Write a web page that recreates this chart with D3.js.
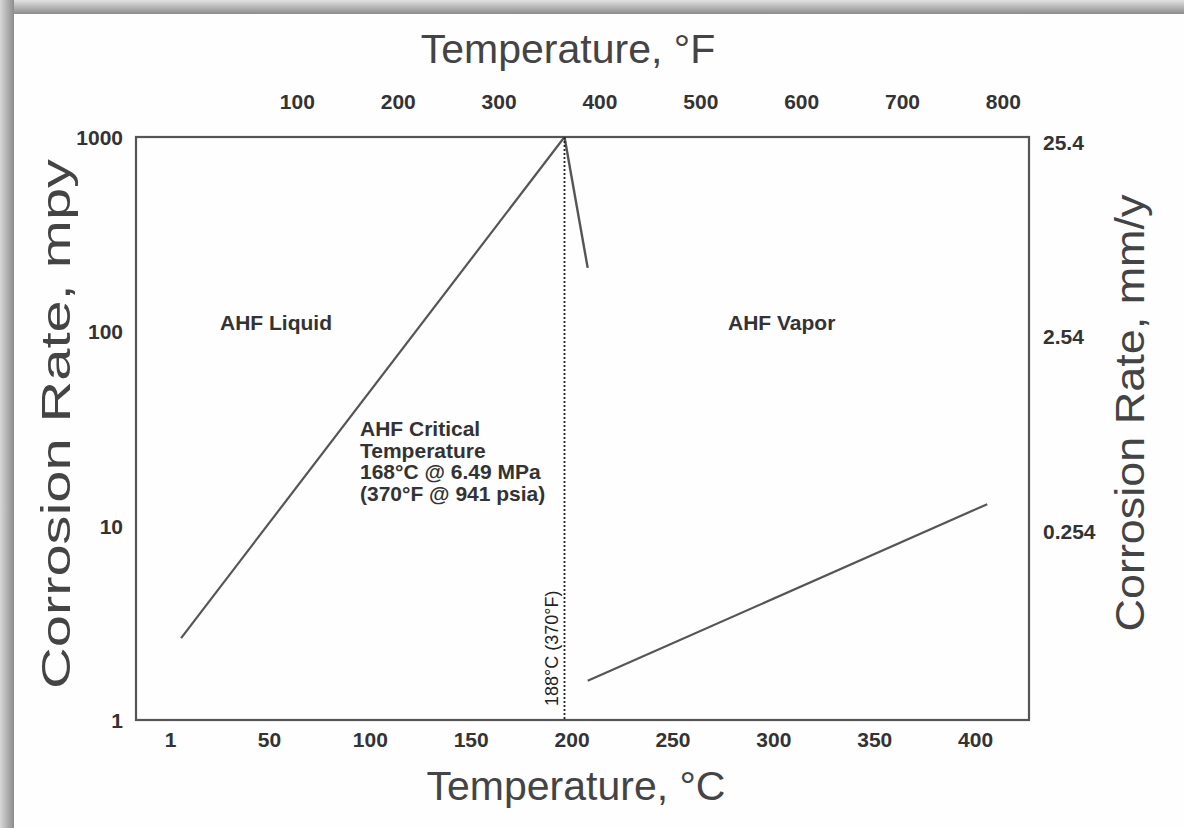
<!DOCTYPE html>
<html lang="en">
<head>
    <meta charset="UTF-8">
    <title>AHF Corrosion Rate vs Temperature</title>
    <script src="https://d3js.org/d3.v7.min.js"></script>
    <style>
        body {
            margin: 0;
            padding: 0;
            background-color: #fefefe;
            font-family: "Liberation Sans", Arial, sans-serif;
        }
        svg {
            display: block;
        }
        .tick-label {
            font-size: 21px;
            font-weight: bold;
            fill: #333;
        }
        .title {
            font-size: 41px;
            fill: #444;
        }
        .note {
            font-size: 21px;
            font-weight: bold;
            fill: #333;
        }
    </style>
</head>
<body>
    <svg id="chart" width="1184" height="828"></svg>

    <script>
        // tick values
        const bottomTicksC = [1, 50, 100, 150, 200, 250, 300, 350, 400];
        const topTicksF = [100, 200, 300, 400, 500, 600, 700, 800];
        const leftTicksMpy = [1, 10, 100, 1000];
        const rightTicksMmy = [0.254, 2.54, 25.4];

        // curves (temperature in °C, corrosion rate in mpy)
        const liquidC = [6.5, 196.5];
        const liquidMpy = [2.64, 1000];
        const dropC = [196.5, 208];
        const dropMpy = [1000, 212];
        const vaporC = [208, 406];
        const vaporMpy = [1.59, 12.9];
        const criticalC = 196.5;

        const svg = d3.select("#chart");

        // gray border strips on the top and left edges
        const defs = svg.append("defs");
        const gTop = defs.append("linearGradient").attr("id", "gTop")
            .attr("x1", 0).attr("y1", 0).attr("x2", 0).attr("y2", 1);
        gTop.append("stop").attr("offset", "0%").attr("stop-color", "#e2e2e2");
        gTop.append("stop").attr("offset", "100%").attr("stop-color", "#8c8c8c");
        const gLeft = defs.append("linearGradient").attr("id", "gLeft")
            .attr("x1", 0).attr("y1", 0).attr("x2", 1).attr("y2", 0);
        gLeft.append("stop").attr("offset", "0%").attr("stop-color", "#d8d8d8");
        gLeft.append("stop").attr("offset", "100%").attr("stop-color", "#8c8c8c");

        svg.append("rect").attr("x", 0).attr("y", 0).attr("width", 1184).attr("height", 14)
            .attr("fill", "url(#gTop)");
        svg.append("rect").attr("x", 0).attr("y", 0).attr("width", 14).attr("height", 828)
            .attr("fill", "url(#gLeft)");

        // plot area
        const plot = { left: 136, right: 1029, top: 137, bottom: 720 };

        const x = d3.scaleLinear().domain([-15.86, 426.7]).range([plot.left, plot.right]);
        const xF = d3.scaleLinear().domain([-59.5, 825.9]).range([plot.left, plot.right]);
        const y = d3.scaleLog().domain([1, 1000]).range([plot.bottom, plot.top]);
        const yR = d3.scaleLog().domain([0.0254, 25.4]).range([plot.bottom, plot.top]);

        // frame
        svg.append("rect")
            .attr("x", plot.left).attr("y", plot.top)
            .attr("width", plot.right - plot.left).attr("height", plot.bottom - plot.top)
            .attr("fill", "none").attr("stroke", "#555").attr("stroke-width", 2.2);

        // axes (labels only, no tick marks)
        const axisBottom = svg.append("g")
            .attr("transform", `translate(0,${plot.bottom + 20})`)
            .call(d3.axisBottom(x).tickValues(bottomTicksC).tickSize(0).tickPadding(0).tickFormat(d3.format("d")));
        const axisTop = svg.append("g")
            .attr("transform", `translate(0,${plot.top - 35})`)
            .call(d3.axisTop(xF).tickValues(topTicksF).tickSize(0).tickPadding(0).tickFormat(d3.format("d")));
        const axisLeft = svg.append("g")
            .attr("transform", `translate(${plot.left - 13},0)`)
            .call(d3.axisLeft(y).tickValues(leftTicksMpy).tickSize(0).tickPadding(0).tickFormat(d3.format("d")));
        const axisRight = svg.append("g")
            .attr("transform", `translate(${plot.right + 14},5)`)
            .call(d3.axisRight(yR).tickValues(rightTicksMmy).tickSize(0).tickPadding(0).tickFormat(d => d));

        [axisBottom, axisTop, axisLeft, axisRight].forEach(a => {
            a.attr("font-size", null).attr("font-family", null);
            a.select(".domain").remove();
            a.selectAll("text")
                .attr("class", "tick-label")
                .attr("fill", null)
                .attr("dy", "0.35em")
                .attr("y", 0);
        });
        axisLeft.selectAll("text").attr("x", 0);
        axisRight.selectAll("text").attr("x", 0);

        // curves
        const line = d3.line().x(d => x(d[0])).y(d => y(d[1]));
        const series = [
            { c: liquidC, v: liquidMpy, w: 2.2 },
            { c: dropC, v: dropMpy, w: 2.4 },
            { c: vaporC, v: vaporMpy, w: 2.2 }
        ];
        series.forEach(s => {
            svg.append("path")
                .datum(s.c.map((c, i) => [c, s.v[i]]))
                .attr("d", line)
                .attr("fill", "none")
                .attr("stroke", "#555")
                .attr("stroke-width", s.w);
        });

        // critical temperature marker
        svg.append("line")
            .attr("x1", x(criticalC)).attr("x2", x(criticalC))
            .attr("y1", y(1000)).attr("y2", y(1))
            .attr("stroke", "#222")
            .attr("stroke-width", 1.8)
            .attr("stroke-dasharray", "2,2");

        svg.append("text")
            .attr("transform", `translate(${x(criticalC) - 7},${y(1) - 14}) rotate(-90)`)
            .attr("font-size", 18)
            .attr("fill", "#222")
            .text("188°C (370°F)");

        // notes
        svg.append("text").attr("class", "note")
            .attr("x", 220).attr("y", 330).text("AHF Liquid");
        svg.append("text").attr("class", "note")
            .attr("x", 728).attr("y", 330).text("AHF Vapor");

        const critLines = ["AHF Critical", "Temperature", "168°C @ 6.49 MPa", "(370°F @ 941 psia)"];
        svg.append("text").attr("class", "note")
            .selectAll("tspan")
            .data(critLines)
            .join("tspan")
            .attr("x", 360)
            .attr("y", (d, i) => 436 + i * 21.5)
            .text(d => d);

        // axis titles
        svg.append("text").attr("class", "title")
            .attr("x", 568).attr("y", 63)
            .attr("text-anchor", "middle")
            .text("Temperature, °F");
        svg.append("text").attr("class", "title")
            .attr("x", 576).attr("y", 800)
            .attr("text-anchor", "middle")
            .text("Temperature, °C");
        svg.append("text").attr("class", "title")
            .attr("transform", "translate(70,424) rotate(-90)")
            .attr("text-anchor", "middle")
            .attr("textLength", 530)
            .attr("lengthAdjust", "spacingAndGlyphs")
            .text("Corrosion Rate, mpy");
        svg.append("text").attr("class", "title")
            .attr("transform", "translate(1144,413) rotate(-90)")
            .attr("text-anchor", "middle")
            .attr("textLength", 437)
            .attr("lengthAdjust", "spacingAndGlyphs")
            .text("Corrosion Rate, mm/y");
    </script>
</body>
</html>
